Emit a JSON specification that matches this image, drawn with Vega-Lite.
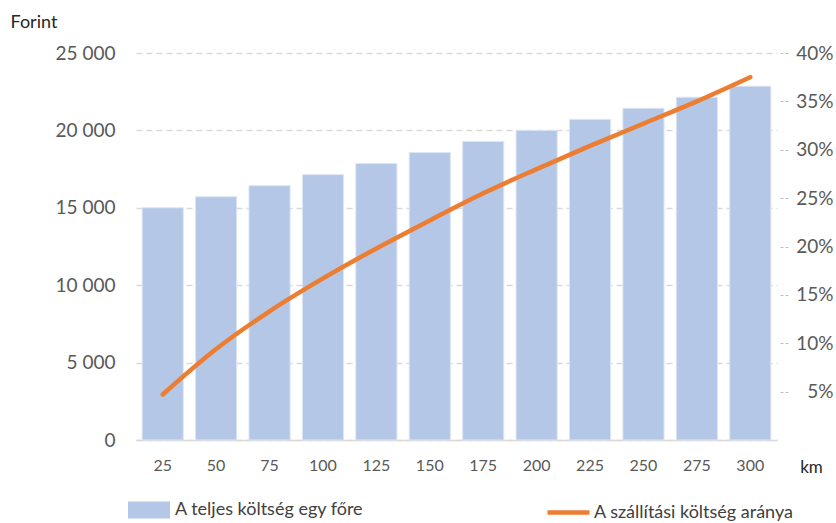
{
  "$schema": "https://vega.github.io/schema/vega-lite/v6.json",
  "autosize": "none",
  "width": 641,
  "height": 387,
  "padding": {"left": 136, "top": 53, "right": 59, "bottom": 83},
  "background": "white",
  "config": {"font": "Lato", "view": {"stroke": null}},
  "data": {
    "values": [
      {"km": 25, "cost": 15000, "ratio": 0.047},
      {"km": 50, "cost": 15714, "ratio": 0.094},
      {"km": 75, "cost": 16429, "ratio": 0.133},
      {"km": 100, "cost": 17143, "ratio": 0.167},
      {"km": 125, "cost": 17857, "ratio": 0.198},
      {"km": 150, "cost": 18571, "ratio": 0.227},
      {"km": 175, "cost": 19286, "ratio": 0.255},
      {"km": 200, "cost": 20000, "ratio": 0.28},
      {"km": 225, "cost": 20714, "ratio": 0.304},
      {"km": 250, "cost": 21429, "ratio": 0.327},
      {"km": 275, "cost": 22143, "ratio": 0.35},
      {"km": 300, "cost": 22857, "ratio": 0.375}
    ]
  },
  "layer": [
    {
      "mark": {"type": "bar", "stroke": "#dce5f4", "strokeWidth": 1},
      "encoding": {
        "x": {
          "field": "km", "type": "ordinal",
          "scale": {"paddingInner": 0.23, "paddingOuter": 0.115},
          "axis": {
            "title": "km", "titleX": 675, "titleY": 27, "titleAngle": 0, "titleAlign": "center",
            "titleBaseline": "middle", "titleFontSize": 17, "titleFontWeight": "normal", "titleColor": "#262626",
            "labelAngle": 0, "labelFontSize": 16, "labelColor": "#595959", "labelPadding": 17,
            "ticks": false, "domainColor": "#d9d9d9", "domainWidth": 1.5, "grid": false
          }
        },
        "y": {
          "field": "cost", "type": "quantitative",
          "scale": {"domain": [0, 25000]},
          "axis": {
            "title": "Forint", "titleAngle": 0, "titleX": -126, "titleY": -31, "titleAlign": "left",
            "titleBaseline": "middle", "titleFontSize": 18, "titleFontWeight": "normal", "titleColor": "#262626",
            "values": [0, 5000, 10000, 15000, 20000, 25000],
            "labelExpr": "replace(format(datum.value, ','), ',', ' ')",
            "labelFontSize": 19, "labelColor": "#595959", "labelPadding": 21,
            "ticks": false, "domain": false, "grid": true, "gridDash": [6, 4], "gridColor": "#d9d9d9", "gridWidth": 1.3
          }
        },
        "fill": {
          "datum": "A teljes költség egy főre",
          "scale": {"range": ["#b4c7e7"]},
          "legend": {
            "orient": "none", "legendX": -8, "legendY": 436, "title": null,
            "labelFontSize": 18, "labelColor": "#404040", "labelFont": "Lato", "labelLimit": 400,
            "symbolSize": 1764, "labelOffset": 5, "symbolType": "M-1,-0.4H1V0.4H-1Z",
            "symbolStrokeWidth": 0
          }
        }
      }
    },
    {
      "mark": {"type": "line", "strokeWidth": 4.5, "interpolate": "monotone", "strokeCap": "round"},
      "encoding": {
        "x": {"field": "km", "type": "ordinal"},
        "y": {
          "field": "ratio", "type": "quantitative",
          "scale": {"domain": [0, 0.4]},
          "axis": {
            "orient": "right", "title": null,
            "values": [0.05, 0.1, 0.15, 0.2, 0.25, 0.3, 0.35, 0.4],
            "format": ".0%", "labelAlign": "right", "labelPadding": 45, "offset": 3,
            "tickSize": 8, "tickDash": [3, 2], "tickColor": "#bfbfbf", "domain": false, "grid": false,
            "labelFontSize": 19, "labelColor": "#595959"
          }
        },
        "stroke": {
          "datum": "A szállítási költség aránya",
          "scale": {"range": ["#ed7d31"]},
          "legend": {
            "orient": "none", "legendX": 409, "legendY": 436, "title": null,
            "labelFontSize": 18, "labelColor": "#404040", "labelFont": "Lato", "labelLimit": 400,
            "symbolSize": 1764, "labelOffset": 2, "symbolType": "M-1,0H1",
            "symbolStrokeWidth": 4.5
          }
        }
      }
    }
  ],
  "resolve": {"scale": {"y": "independent"}}
}
